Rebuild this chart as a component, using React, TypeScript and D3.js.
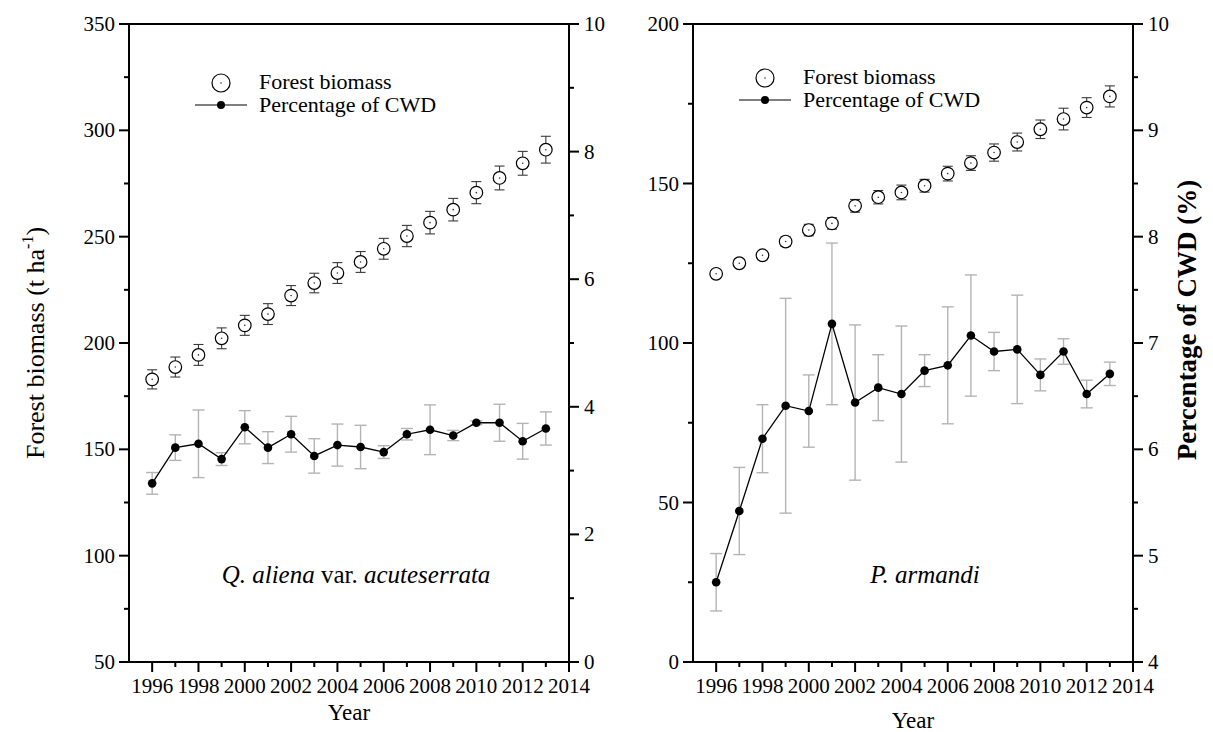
import React from 'react';
import * as d3 from 'd3';

// ---------- data ----------
const years = [1996, 1997, 1998, 1999, 2000, 2001, 2002, 2003, 2004, 2005, 2006, 2007, 2008, 2009, 2010, 2011, 2012, 2013];

// Q. aliena var. acuteserrata
const qBiomass = [182.9, 188.7, 194.4, 202.2, 208.3, 213.6, 222.3, 228.2, 232.9, 238.1, 244.3, 250.3, 256.6, 262.7, 270.7, 277.6, 284.5, 290.9];
const qBiomassErr = [4.5, 4.7, 4.9, 4.9, 4.7, 4.9, 4.7, 4.6, 4.9, 4.9, 4.9, 5.0, 5.3, 5.3, 5.2, 5.6, 5.6, 6.3];
const qCwd = [2.80, 3.36, 3.42, 3.18, 3.68, 3.36, 3.57, 3.23, 3.40, 3.37, 3.29, 3.57, 3.64, 3.55, 3.75, 3.75, 3.46, 3.66];
const qCwdErr = [0.17, 0.20, 0.53, 0.10, 0.26, 0.25, 0.28, 0.27, 0.33, 0.34, 0.10, 0.09, 0.39, 0.08, 0.03, 0.29, 0.28, 0.26];

// P. armandi
const pBiomass = [121.7, 125.0, 127.5, 131.8, 135.4, 137.5, 143.0, 145.7, 147.2, 149.3, 153.1, 156.4, 159.7, 163.0, 167.0, 170.2, 173.8, 177.3];
const pBiomassErr = [1.0, 1.0, 1.2, 1.5, 1.8, 1.8, 2.0, 2.1, 2.3, 2.0, 2.3, 2.3, 2.7, 2.8, 2.9, 3.4, 3.1, 3.3];
const pCwd = [4.75, 5.42, 6.10, 6.41, 6.36, 7.18, 6.44, 6.58, 6.52, 6.74, 6.79, 7.07, 6.92, 6.94, 6.70, 6.92, 6.52, 6.71];
const pCwdErr = [0.27, 0.41, 0.32, 1.01, 0.34, 0.76, 0.73, 0.31, 0.64, 0.15, 0.55, 0.57, 0.18, 0.51, 0.15, 0.12, 0.13, 0.11];

// axes
const xDomain = [1995, 2014];
const xTickLabels = [1996, 1998, 2000, 2002, 2004, 2006, 2008, 2010, 2012, 2014];
const qLeftDomain = [50, 350];
const qRightDomain = [0, 10];
const pLeftDomain = [0, 200];
const pRightDomain = [4, 10];

const legendLabels = ['Forest biomass', 'Percentage of CWD'];

const FONT = '"Liberation Serif", "Times New Roman", Times, serif';
const TOP = 24;
const BOTTOM = 662;

type PanelProps = {
  x0: number;
  x1: number;
  biomass: number[];
  biomassErr: number[];
  cwd: number[];
  cwdErr: number[];
  leftDomain: number[];
  rightDomain: number[];
  leftStep: number;
  rightStep: number;
  legendX: number;
  legendY: number;
  title: React.ReactNode;
  titleX: number;
  yearY: number;
};

function Panel(p: PanelProps) {
  const x = d3.scaleLinear().domain(xDomain).range([p.x0, p.x1]);
  const yL = d3.scaleLinear().domain(p.leftDomain).range([BOTTOM, TOP]);
  const yR = d3.scaleLinear().domain(p.rightDomain).range([BOTTOM, TOP]);

  const xMajor = xTickLabels;
  const xMinor = d3.range(1997, 2014, 2);
  const lMajor = d3.range(p.leftDomain[0], p.leftDomain[1] + 0.001, p.leftStep);
  const lMinor = d3.range(p.leftDomain[0] + p.leftStep / 2, p.leftDomain[1], p.leftStep);
  const rMajor = d3.range(p.rightDomain[0], p.rightDomain[1] + 0.001, p.rightStep);
  const rMinor = d3.range(p.rightDomain[0] + p.rightStep / 2, p.rightDomain[1], p.rightStep);

  const line = d3
    .line<number>()
    .x((_, i) => x(years[i]))
    .y((d) => yR(d));

  const MAJ = 10;
  const MIN = 5;
  const axisW = 2;
  const tickFont = 21;

  return (
    <g>
      {/* CWD error bars */}
      {p.cwd.map((v, i) => {
        const cx = x(years[i]);
        const t = yR(v + p.cwdErr[i]);
        const b = yR(v - p.cwdErr[i]);
        return (
          <g key={'ce' + i} stroke="#b4b4b4" strokeWidth={1.4}>
            <line x1={cx} x2={cx} y1={t} y2={b} />
            <line x1={cx - 6} x2={cx + 6} y1={t} y2={t} />
            <line x1={cx - 6} x2={cx + 6} y1={b} y2={b} />
          </g>
        );
      })}
      <path d={line(p.cwd) || ''} fill="none" stroke="#000" strokeWidth={1.3} />
      {p.cwd.map((v, i) => (
        <circle key={'cd' + i} cx={x(years[i])} cy={yR(v)} r={4.3} fill="#000" />
      ))}

      {/* biomass error bars */}
      {p.biomass.map((v, i) => {
        const cx = x(years[i]);
        const t = yL(v + p.biomassErr[i]);
        const b = yL(v - p.biomassErr[i]);
        return (
          <g key={'be' + i} stroke="#3a3a3a" strokeWidth={1.1}>
            <line x1={cx} x2={cx} y1={t} y2={b} />
            <line x1={cx - 5} x2={cx + 5} y1={t} y2={t} />
            <line x1={cx - 5} x2={cx + 5} y1={b} y2={b} />
          </g>
        );
      })}
      {p.biomass.map((v, i) => (
        <g key={'bc' + i}>
          <circle cx={x(years[i])} cy={yL(v)} r={6.3} fill="#fff" stroke="#000" strokeWidth={1.2} />
          <circle cx={x(years[i])} cy={yL(v)} r={0.8} fill="#333" />
        </g>
      ))}

      {/* frame */}
      <line x1={p.x0} x2={p.x1} y1={TOP} y2={TOP} stroke="#000" strokeWidth={axisW} />
      <line x1={p.x0 - 1} x2={p.x1 + 1} y1={BOTTOM} y2={BOTTOM} stroke="#000" strokeWidth={axisW} />
      <line x1={p.x0} x2={p.x0} y1={TOP} y2={BOTTOM} stroke="#000" strokeWidth={axisW} />
      <line x1={p.x1} x2={p.x1} y1={TOP} y2={BOTTOM} stroke="#000" strokeWidth={axisW} />

      {/* x ticks */}
      {xMajor.map((t) => (
        <g key={'xm' + t}>
          <line x1={x(t)} x2={x(t)} y1={BOTTOM} y2={BOTTOM + MAJ} stroke="#000" strokeWidth={axisW} />
          <text x={x(t)} y={BOTTOM + 31} textAnchor="middle" fontSize={tickFont} fontFamily={FONT}>
            {t}
          </text>
        </g>
      ))}
      {xMinor.map((t) => (
        <line key={'xn' + t} x1={x(t)} x2={x(t)} y1={BOTTOM} y2={BOTTOM + MIN} stroke="#000" strokeWidth={axisW} />
      ))}

      {/* left y ticks */}
      {lMajor.map((t) => (
        <g key={'lm' + t}>
          <line x1={p.x0 - MAJ} x2={p.x0} y1={yL(t)} y2={yL(t)} stroke="#000" strokeWidth={axisW} />
          <text x={p.x0 - 14} y={yL(t) + 7} textAnchor="end" fontSize={tickFont} fontFamily={FONT}>
            {t}
          </text>
        </g>
      ))}
      {lMinor.map((t) => (
        <line key={'ln' + t} x1={p.x0 - MIN} x2={p.x0} y1={yL(t)} y2={yL(t)} stroke="#000" strokeWidth={axisW} />
      ))}

      {/* right y ticks */}
      {rMajor.map((t) => (
        <g key={'rm' + t}>
          <line x1={p.x1} x2={p.x1 + MAJ} y1={yR(t)} y2={yR(t)} stroke="#000" strokeWidth={axisW} />
          <text x={p.x1 + 15} y={yR(t) + 7} textAnchor="start" fontSize={tickFont} fontFamily={FONT}>
            {t}
          </text>
        </g>
      ))}
      {rMinor.map((t) => (
        <line key={'rn' + t} x1={p.x1} x2={p.x1 + MIN} y1={yR(t)} y2={yR(t)} stroke="#000" strokeWidth={axisW} />
      ))}

      {/* legend */}
      <circle cx={p.legendX + 26} cy={p.legendY - 6} r={9} fill="none" stroke="#000" strokeWidth={1.2} />
      <circle cx={p.legendX + 26} cy={p.legendY - 6} r={0.8} fill="#333" />
      <text x={p.legendX + 64} y={p.legendY} fontSize={22} fontFamily={FONT}>
        {legendLabels[0]}
      </text>
      <line x1={p.legendX} x2={p.legendX + 52} y1={p.legendY + 16} y2={p.legendY + 16} stroke="#000" strokeWidth={1.2} />
      <circle cx={p.legendX + 26} cy={p.legendY + 16} r={4} fill="#000" />
      <text x={p.legendX + 64} y={p.legendY + 23} fontSize={22} fontFamily={FONT}>
        {legendLabels[1]}
      </text>

      {/* species title */}
      <text x={p.titleX} y={583} textAnchor="middle" fontSize={25} fontFamily={FONT}>
        {p.title}
      </text>

      {/* x axis title */}
      <text x={(p.x0 + p.x1) / 2} y={p.yearY} textAnchor="middle" fontSize={23} fontFamily={FONT}>
        Year
      </text>
    </g>
  );
}

export default function App() {
  return (
    <svg
      width={1213}
      height={732}
      viewBox="0 0 1213 732"
      style={{ position: 'absolute', left: 0, top: 0, background: '#fff' }}
    >
      <rect x={0} y={0} width={1213} height={732} fill="#fff" />
      <Panel
        x0={129}
        x1={569}
        biomass={qBiomass}
        biomassErr={qBiomassErr}
        cwd={qCwd}
        cwdErr={qCwdErr}
        leftDomain={qLeftDomain}
        rightDomain={qRightDomain}
        leftStep={50}
        rightStep={2}
        legendX={195}
        legendY={89}
        titleX={356}
        yearY={720}
        title={
          <>
            <tspan fontStyle="italic">Q. aliena</tspan>
            <tspan> var. </tspan>
            <tspan fontStyle="italic">acuteserrata</tspan>
          </>
        }
      />
      <Panel
        x0={693}
        x1={1133}
        biomass={pBiomass}
        biomassErr={pBiomassErr}
        cwd={pCwd}
        cwdErr={pCwdErr}
        leftDomain={pLeftDomain}
        rightDomain={pRightDomain}
        leftStep={50}
        rightStep={1}
        legendX={739}
        legendY={84}
        titleX={925}
        yearY={728}
        title={<tspan fontStyle="italic">P. armandi</tspan>}
      />
      {/* left y title */}
      <text
        transform="translate(44,343) rotate(-90)"
        textAnchor="middle"
        fontSize={26}
        fontFamily={FONT}
      >
        Forest biomass (t ha
        <tspan fontSize={16} dy={-11}>-1</tspan>
        <tspan dy={11}>)</tspan>
      </text>
      {/* right y title */}
      <text
        transform="translate(1196,320) rotate(-90)"
        textAnchor="middle"
        fontSize={27}
        fontWeight="bold"
        fontFamily={FONT}
      >
        Percentage of CWD (%)
      </text>
    </svg>
  );
}
